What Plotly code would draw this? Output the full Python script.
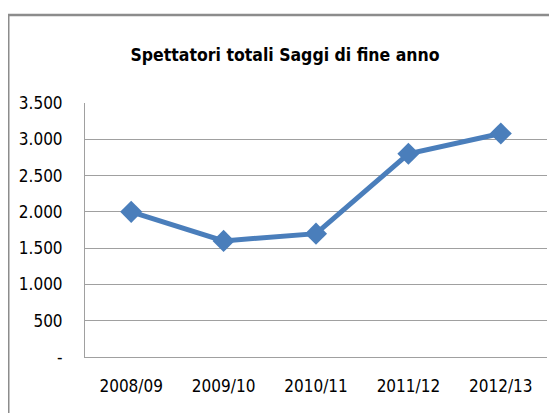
import plotly.graph_objects as go

categories = ["2008/09", "2009/10", "2010/11", "2011/12", "2012/13"]
spettatori = [2000, 1600, 1700, 2800, 3080]
tick_vals = [0, 500, 1000, 1500, 2000, 2500, 3000, 3500]
tick_text = ["-", "500", "1.000", "1.500", "2.000", "2.500", "3.000", "3.500"]
title_text = "Spettatori totali Saggi di fine anno"

FONT = "DejaVu Sans Condensed, Liberation Sans Narrow, Liberation Sans, sans-serif"

# page body has an 8px offset; positions below are in figure coords
L, T = 77, 95
PW, PH = 462, 254
fig = go.Figure()
fig.add_trace(go.Scatter(
    x=categories, y=spettatori, mode="lines+markers",
    line=dict(color="#4a7ebb", width=5),
    marker=dict(symbol="diamond", size=17, color="#4a7ebb"),
    showlegend=False, hoverinfo="skip",
))

fig.update_layout(
    width=557, height=413,
    margin=dict(l=L, r=557 - L - PW, t=T, b=413 - T - PH),
    paper_bgcolor="white", plot_bgcolor="white",
    font=dict(family=FONT, size=17, color="#000000"),
    title=dict(text="<b>" + title_text + "</b>", x=277 / 557, xanchor="center",
               xref="container", y=1 - 47 / 413, yanchor="middle",
               font=dict(family=FONT, size=17.5, color="#000000")),
    xaxis=dict(type="category", range=[-0.5, 4.5], showgrid=False,
               showline=True, linecolor="#a0a0a0", linewidth=1,
               ticks="", ticklabelstandoff=14, fixedrange=True),
    yaxis=dict(range=[0, 3500], tickvals=tick_vals, ticktext=tick_text,
               showgrid=True, gridcolor="#a0a0a0", gridwidth=1,
               showline=True, linecolor="#a0a0a0", linewidth=1,
               ticks="", ticklabelstandoff=18, zeroline=False, fixedrange=True),
    shapes=[
        dict(type="line", xref="paper", yref="paper",
             x0=(0.5 - L) / PW, x1=(0.5 - L) / PW, y0=-0.4, y1=(T + PH - 7) / PH,
             line=dict(color="#8c8c8c", width=2)),
        dict(type="line", xref="paper", yref="paper",
             x0=(0 - L) / PW, x1=1.2, y0=(T + PH - 7) / PH, y1=(T + PH - 7) / PH,
             line=dict(color="#8c8c8c", width=2.5)),
    ],
)

fig.write_html("out.html")
